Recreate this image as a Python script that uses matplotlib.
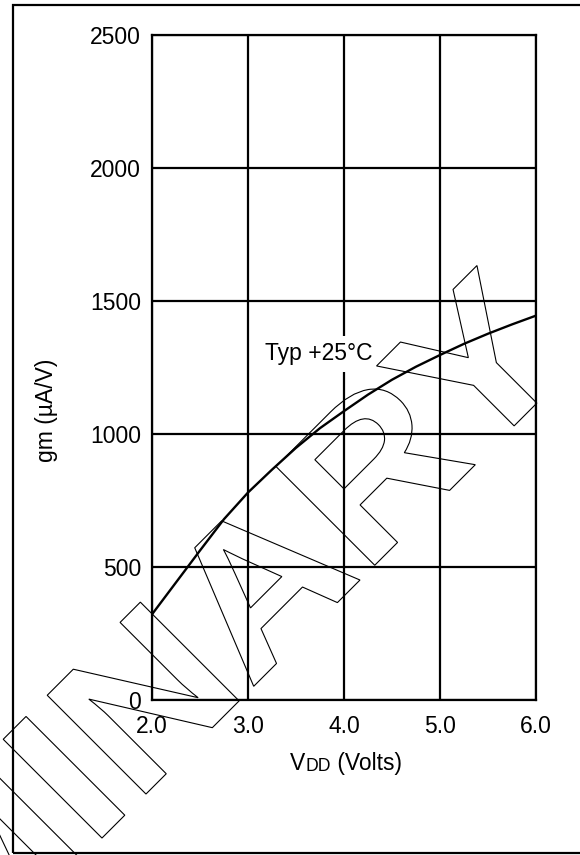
# gm vs VDD, typical curve at +25C (datasheet style, with PRELIMINARY watermark)
import numpy as np
import matplotlib
matplotlib.use('Agg')
import matplotlib.pyplot as plt
from matplotlib.textpath import TextPath
from matplotlib.patches import PathPatch, Rectangle
from matplotlib.font_manager import FontProperties
from matplotlib.transforms import Affine2D

plt.rcParams['font.family'] = ['Liberation Sans', 'DejaVu Sans']

# Data:
vdd = [2.0, 2.25, 2.5, 2.75, 3.0, 3.25, 3.5, 3.75, 4.0, 4.25, 4.5, 4.75, 5.0, 5.25, 5.5, 5.75, 6.0]
gm = [322, 442, 562, 680, 780, 866, 948, 1022, 1086, 1148, 1204, 1253, 1297, 1339, 1377, 1412, 1445]

x_ticks = [2.0, 3.0, 4.0, 5.0, 6.0]
x_labels = ['2.0', '3.0', '4.0', '5.0', '6.0']
y_ticks = [0, 500, 1000, 1500, 2000, 2500]
y_labels = ['0', '500', '1000', '1500', '2000', '2500']

fs = 16.5

fig = plt.figure(figsize=(5.8, 8.55), dpi=100)
ax = fig.add_axes([152/580, 1 - 700/855, (536 - 152)/580, (700 - 35)/855])

ax.plot(vdd, gm, color='black', lw=1.7)

ax.set_xlim(2.0, 6.0)
ax.set_ylim(0, 2500)
ax.set_xticks(x_ticks)
ax.set_xticklabels(x_labels)
ax.set_yticks(y_ticks)
ax.set_yticklabels(y_labels)
ax.tick_params(length=0, labelsize=fs, labelcolor='black')
ax.tick_params(axis='x', pad=11)
ax.tick_params(axis='y', pad=8)
ax.grid(True, color='black', lw=1.6)
for s in ax.spines.values():
    s.set_linewidth(1.6)

ax.text(4.30, 1301, 'Typ +25°C', ha='right', va='center', fontsize=fs,
        bbox=dict(boxstyle='square,pad=0.3', fc='white', ec='none'))

# axis titles
fig.text(47/580, 1 - 410/855, 'gm (µA/V)', rotation=90, ha='center', va='center', fontsize=fs)
t1 = fig.text(290/580, 1 - 775/855, 'V', ha='left', va='bottom', fontsize=fs)
t2 = ax.annotate('DD', xy=(1, 0), xycoords=t1, ha='left', va='bottom', fontsize=12.7)
ax.annotate(' (Volts)', xy=(1, 0), xycoords=t2, ha='left', va='bottom', fontsize=fs)

# watermark, outlined letters at 45 deg
fp = FontProperties(family='Liberation Sans', weight='bold')
tp = TextPath((0, 0), 'PRELIMINARY', size=1, prop=fp)
tr = Affine2D().scale(224, 203).rotate_deg(45).translate(-507, -592).scale(1/100) + fig.dpi_scale_trans
wm = PathPatch(tp, transform=tr, fc='none', ec='black', lw=0.8, zorder=5)
fig.add_artist(wm)

# page frame
fig.add_artist(Rectangle((13/580, 1 - 853/855), 1.01 - 13/580, 848/855, transform=fig.transFigure,
                         fill=False, ec='black', lw=1.6, clip_on=False))

fig.savefig('out.png', dpi=100)
